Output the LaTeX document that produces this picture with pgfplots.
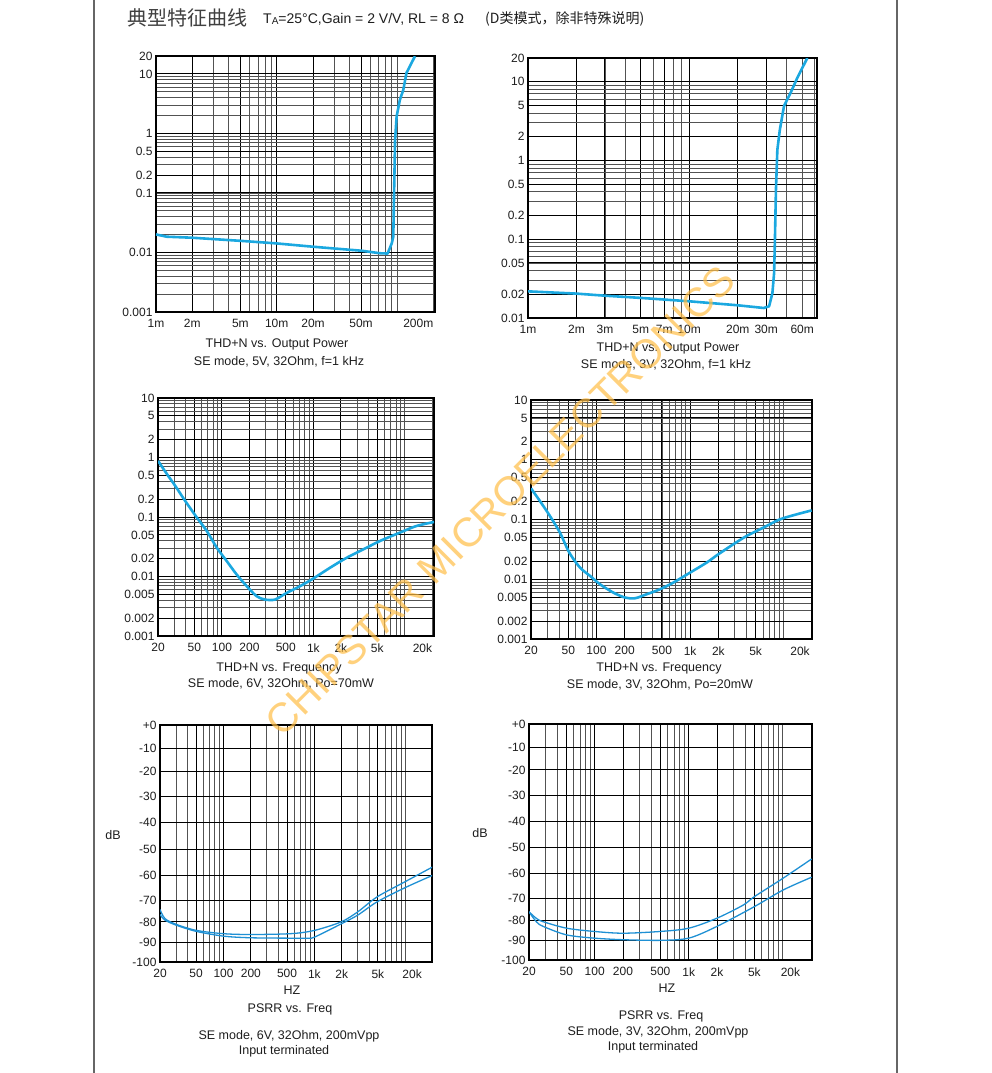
\documentclass[border=0pt]{standalone}
\usepackage{fontspec}
\setmainfont{Liberation Sans}
\newfontfamily\cjk{Noto Sans CJK SC}
\usepackage{pgfplots}
\pgfplotsset{compat=1.18}
\usepackage{pgfplotstable}

\definecolor{curve}{RGB}{27,168,224}
\definecolor{psrr}{RGB}{30,144,212}
\definecolor{wm}{RGB}{255,190,70}
\definecolor{txt}{RGB}{30,30,30}

% non-uniform dB scale of the PSRR grids (piecewise linear, one knot per 10 dB)
\newcommand\psrrtrafo[1]{%
  \begingroup
  \pgfkeys{/pgf/fpu=false}%
  \pgfmathsetmacro\pu{(#1+100)/10}%
  \pgfmathtruncatemacro\pk{min(max(floor(\pu),0),9)}%
  \pgfmathtruncatemacro\pkk{\pk+1}%
  \pgfmathsetmacro\pf{\pu-\pk}%
  \pgfmathsetmacro\pa{{0,19.7,40,61.7,86.3,112.3,138.7,165,190.3,213,236.2}[\pk]}%
  \pgfmathsetmacro\pb{{0,19.7,40,61.7,86.3,112.3,138.7,165,190.3,213,236.2}[\pkk]}%
  \pgfmathparse{\pa+\pf*(\pb-\pa)}%
  \xdef\psrrresult{\pgfmathresult}%
  \endgroup
  \let\pgfmathresult\psrrresult}

\pgfplotstableread{
x y
0.001 0.0201
0.00123 0.0184
0.002 0.0177
0.005 0.0157
0.010 0.0142
0.020 0.0125
0.0295 0.0117
0.0506 0.0107
0.072 0.0097
0.083 0.0096
0.0898 0.0142
0.0925 0.0184
0.0957 0.78
0.0986 1.94
0.105 3.7
0.112 5.4
0.119 10.4
0.140 19.9
}\thdpA

\pgfplotstableread{
x y
0.001 0.0218
0.002 0.0204
0.003 0.0192
0.005 0.0180
0.010 0.0163
0.020 0.0145
0.029 0.0134
0.0313 0.0141
0.0328 0.0208
0.0336 0.0373
0.0340 0.099
0.0345 0.43
0.0352 1.37
0.0365 2.47
0.0387 4.9
0.0425 7.2
0.0468 11.2
0.054 20
}\thdpB

\pgfplotstableread{
x y
20 0.879
25.1 0.524
30.9 0.333
39.7 0.186
53.3 0.0975
68.4 0.058
88 0.0304
113 0.0181
145 0.0108
187 0.00687
240 0.00466
296 0.0041
381 0.0041
511 0.00531
714 0.00687
998 0.00925
1518 0.014
2307 0.0206
3508 0.0285
5324 0.0394
8809 0.0545
13370 0.0705
20860 0.0824
}\thdfA

\pgfplotstableread{
x y
20 0.332
24.9 0.204
31.9 0.114
40.8 0.060
51.3 0.0279
66.7 0.0157
85.3 0.0114
109 0.00825
151 0.00599
202 0.00494
258 0.00481
343 0.00561
477 0.0068
662 0.0088
997 0.0129
1500 0.019
1950 0.0255
2890 0.0385
4010 0.053
6040 0.073
9100 0.1006
13720 0.122
19820 0.142
}\thdfB

\pgfplotstableread{
x y
20 -74.3
22.7 -78.5
30.5 -81.3
50.5 -84.2
100 -85.8
196 -86.2
544 -85.8
1000 -84.2
1970 -80.0
3000 -75.4
4900 -68.7
9900 -62.6
19900 -56.8
}\psrrAa

\pgfplotstableread{
x y
20 -76.6
22.7 -79.2
30.5 -81.7
50.5 -84.7
100 -87.0
196 -87.8
544 -88.0
826 -88.0
1000 -87.5
1970 -81.0
3000 -76.9
4900 -70.8
9900 -65.0
19900 -60.0
}\psrrAb

\pgfplotstableread{
x y
20 -76.2
23.9 -79.2
28.2 -80.8
50 -84.0
97.6 -85.6
200 -86.5
508 -85.6
1005 -84.0
1985 -79.2
3800 -73.1
5000 -69.3
10100 -61.8
20300 -54.3
}\psrrBa

\pgfplotstableread{
x y
20 -76.2
23.9 -80.8
28.2 -83.1
50 -87.3
97.6 -88.9
200 -89.7
508 -90.0
1005 -88.9
1985 -83.2
5000 -73.8
10100 -66.6
20300 -61.4
}\psrrBb

\pgfplotsset{
  base/.style={scale only axis, anchor=north west,
    axis line style={black,line width=1.3pt},
    grid=both,
    major grid style={black,line width=1pt},
    minor grid style={black!68,line width=0.85pt},
    major tick length=0pt, minor tick length=0pt,
    tick label style={font=\fontsize{12}{12}\selectfont, text=txt},
    x tick label style={yshift=-4pt},
    extra x tick style={grid=none},
  },
  freqticks/.style={
    xtick={20,50,100,200,500,1000,2000,5000},
    xticklabels={20,50,100,200,500,1k,2k,5k},
    minor xtick={20,30,40,50,60,70,80,90,100,200,300,400,500,600,700,800,900,1000,2000,3000,4000,5000,6000,7000,8000,9000,10000,20000},
  },
  thdticks/.style={
    ytick={0.001,0.002,0.005,0.01,0.02,0.05,0.1,0.2,0.5,1,2,5,10},
    yticklabels={0.001,0.002,0.005,0.01,0.02,0.05,0.1,0.2,0.5,1,2,5,10},
    minor ytick={0.001,0.002,0.003,0.004,0.005,0.006,0.007,0.008,0.009,0.01,0.02,0.03,0.04,0.05,0.06,0.07,0.08,0.09,0.1,0.2,0.3,0.4,0.5,0.6,0.7,0.8,0.9,1,2,3,4,5,6,7,8,9,10},
  },
  dbticks/.style={
    ytick={-100,-90,-80,-70,-60,-50,-40,-30,-20,-10,0},
    yticklabels={-100,-90,-80,-70,-60,-50,-40,-30,-20,-10,+0},
  },
}

\begin{document}
\begin{tikzpicture}
\useasboundingbox (0pt,0pt) rectangle (991pt,-1073pt);
\fill[white] (0pt,0pt) rectangle (991pt,-1073pt);
\draw[black!60, line width=1.2pt] (94pt,0pt) -- (94pt,-1073pt);
\draw[black!60, line width=1.2pt] (897pt,0pt) -- (897pt,-1073pt);

% header
\node[anchor=base west, inner sep=0pt, text=black!75, font=\cjk\fontsize{20}{20}\selectfont] at (127pt,-26pt) {典型特征曲线};
\node[anchor=base west, inner sep=0pt, text=txt, font=\fontsize{14}{14}\selectfont] at (263pt,-24pt) {T\raisebox{-1pt}{\fontsize{10}{10}\selectfont A}=25°C,Gain = 2 V/V, RL = 8 Ω};
\node[anchor=base west, inner sep=0pt, text=txt, font=\cjk\fontsize{14}{14}\selectfont] at (485pt,-24pt) {(D类模式，除非特殊说明)};

% ---- Plot 1
\begin{axis}[base, at={(156pt,-56pt)}, width=279pt, height=256pt,
  xmode=log, ymode=log, xmin=0.001, xmax=0.205, ymin=0.001, ymax=20,
  xtick={0.001,0.002,0.005,0.01,0.02,0.05}, xticklabels={1m,2m,5m,10m,20m,50m},
  extra x ticks={0.149}, extra x tick labels={200m},
  minor xtick={0.001,0.002,0.003,0.004,0.005,0.006,0.007,0.008,0.009,0.01,0.02,0.03,0.04,0.05,0.06,0.07,0.08,0.09,0.1,0.2},
  ytick={0.001,0.01,0.1,0.2,0.5,1,10,20}, yticklabels={0.001,0.01,0.1,0.2,0.5,1,10,20},
  minor ytick={0.001,0.002,0.003,0.004,0.005,0.006,0.007,0.008,0.009,0.01,0.02,0.03,0.04,0.05,0.06,0.07,0.08,0.09,0.1,0.2,0.3,0.4,0.5,0.6,0.7,0.8,0.9,1,2,3,4,5,6,7,8,9,10,20},
]
\addplot[curve, line width=2.6pt, line join=round] table[x=x,y=y] {\thdpA};
\end{axis}

% ---- Plot 2
\begin{axis}[base, at={(528pt,-58pt)}, width=289pt, height=260pt,
  xmode=log, ymode=log, xmin=0.001, xmax=0.062, ymin=0.01, ymax=20,
  xtick={0.001,0.002,0.003,0.005,0.007,0.01,0.02,0.03}, xticklabels={1m,2m,3m,5m,7m,10m,20m,30m},
  extra x ticks={0.0502}, extra x tick labels={60m},
  minor xtick={0.001,0.002,0.003,0.004,0.005,0.006,0.007,0.008,0.009,0.01,0.02,0.03,0.04,0.05,0.06},
  ytick={0.01,0.02,0.05,0.1,0.2,0.5,1,2,5,10,20}, yticklabels={0.01,0.02,0.05,0.1,0.2,0.5,1,2,5,10,20},
  minor ytick={0.01,0.02,0.03,0.04,0.05,0.06,0.07,0.08,0.09,0.1,0.2,0.3,0.4,0.5,0.6,0.7,0.8,0.9,1,2,3,4,5,6,7,8,9,10,20},
]
\addplot[curve, line width=2.6pt, line join=round] table[x=x,y=y] {\thdpB};
\end{axis}

% ---- Plot 3
\begin{axis}[base, freqticks, thdticks, at={(158pt,-398pt)}, width=276pt, height=238pt,
  xmode=log, ymode=log, ymin=0.001, ymax=10,
  xmin=20, xmax=20860, extra x ticks={15600}, extra x tick labels={20k}]
\addplot[curve, line width=2.6pt, smooth] table[x=x,y=y] {\thdfA};
\end{axis}

% ---- Plot 4
\begin{axis}[base, freqticks, thdticks, at={(531pt,-400pt)}, width=281pt, height=239pt,
  xmode=log, ymode=log, ymin=0.001, ymax=10,
  xmin=20, xmax=20000, extra x ticks={14900}, extra x tick labels={20k}]
\addplot[curve, line width=2.6pt, smooth] table[x=x,y=y] {\thdfB};
\end{axis}

% ---- Plot 5
\begin{axis}[base, freqticks, dbticks, at={(160pt,-725pt)}, width=272pt, height=237pt,
  xmode=log, ymin=-100, ymax=0, y coord trafo/.code={\psrrtrafo{#1}},
  xmin=20, xmax=19700, extra x ticks={11900}, extra x tick labels={20k}]
\addplot[psrr, line width=1.3pt, smooth] table[x=x,y=y] {\psrrAa};
\addplot[psrr, line width=1.3pt, smooth] table[x=x,y=y] {\psrrAb};
\end{axis}

% ---- Plot 6
\begin{axis}[base, freqticks, dbticks, at={(529pt,-724pt)}, width=283pt, height=236pt,
  xmode=log, ymin=-100, ymax=0, y coord trafo/.code={\psrrtrafo{#1}},
  xmin=20, xmax=20500, extra x ticks={12100}, extra x tick labels={20k}]
\addplot[psrr, line width=1.3pt, smooth] table[x=x,y=y] {\psrrBa};
\addplot[psrr, line width=1.3pt, smooth] table[x=x,y=y] {\psrrBb};
\end{axis}

% captions
\begin{scope}[every node/.style={text=txt, font=\fontsize{12.5}{14}\selectfont, inner sep=0pt}]
\node at (277pt,-344pt) {THD+N vs. Output Power};
\node at (279pt,-362pt) {SE mode, 5V, 32Ohm, f=1 kHz};
\node at (668pt,-348pt) {THD+N vs. Output Power};
\node at (666pt,-365pt) {SE mode, 3V, 32Ohm, f=1 kHz};
\node at (279pt,-668pt) {THD+N vs. Frequency};
\node at (281pt,-684pt) {SE mode, 6V, 32Ohm, Po=70mW};
\node at (659pt,-668pt) {THD+N vs. Frequency};
\node at (660pt,-685pt) {SE mode, 3V, 32Ohm, Po=20mW};
\node at (292pt,-990pt) {HZ};
\node at (290pt,-1009pt) {PSRR vs. Freq};
\node at (289pt,-1036pt) {SE mode, 6V, 32Ohm, 200mVpp};
\node at (284pt,-1051pt) {Input terminated};
\node at (113pt,-835pt) {dB};
\node at (667pt,-988pt) {HZ};
\node at (661pt,-1016pt) {PSRR vs. Freq};
\node at (658pt,-1032pt) {SE mode, 3V, 32Ohm, 200mVpp};
\node at (653pt,-1047pt) {Input terminated};
\node at (480pt,-833pt) {dB};
\end{scope}

% watermark
\node[rotate=45, text=wm, opacity=0.7, inner sep=0pt, font=\fontsize{41}{41}\selectfont] at (500pt,-501pt) {CHIPSTAR MICROELECTRONICS};
\end{tikzpicture}
\end{document}
